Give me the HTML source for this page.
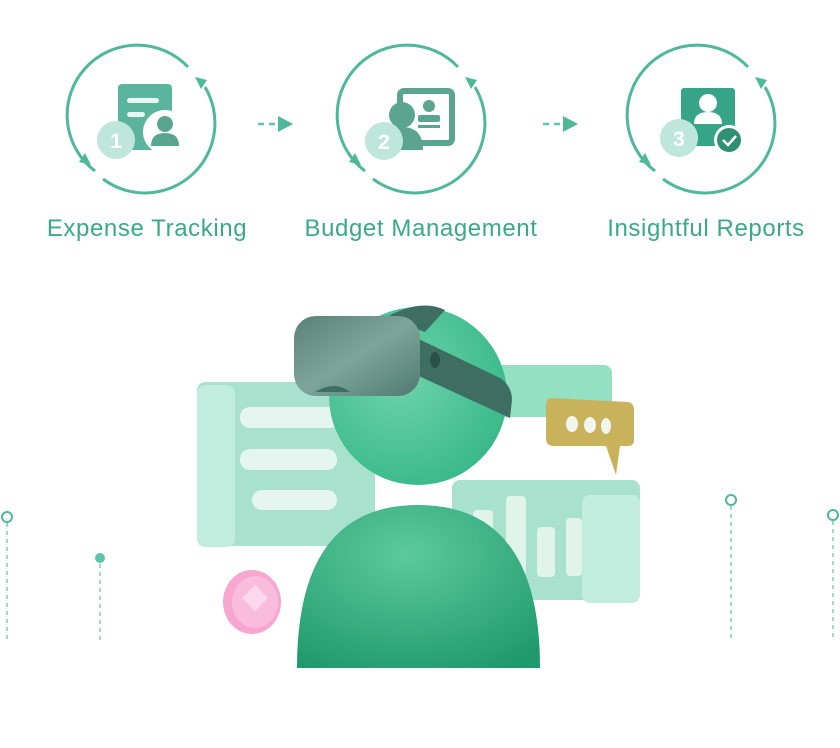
<!DOCTYPE html>
<html><head><meta charset="utf-8"><style>
html,body{margin:0;padding:0;background:#fff;}
svg{display:block;}
text{font-family:"Liberation Sans",sans-serif;}
</style></head><body>
<svg width="840" height="748" viewBox="0 0 840 748" xmlns="http://www.w3.org/2000/svg">
<defs>
<g id="ring">
<path d="M 45 -54 A 70 70 0 1 0 -48 50" fill="none" stroke="#4db89a" stroke-width="3"/>
<path d="M -40 58 A 70 70 0 0 0 62 -34" fill="none" stroke="#4db89a" stroke-width="3"/>
<path d="M 52 -44 L 64 -41 L 58 -32 Z" fill="#4db89a"/>
<path d="M -52 44 L -64 41 L -58 32 Z" fill="#4db89a"/>
</g>
<radialGradient id="head" cx="0.4" cy="0.4" r="0.7"><stop offset="0" stop-color="#6fd3ad"/><stop offset="1" stop-color="#34b787"/></radialGradient>
<radialGradient id="body" cx="0.45" cy="0.3" r="0.8"><stop offset="0" stop-color="#5cc99e"/><stop offset="1" stop-color="#1f9a6c"/></radialGradient>
<linearGradient id="gog" x1="0" y1="0" x2="1" y2="1"><stop offset="0" stop-color="#5a8078"/><stop offset="0.5" stop-color="#7ea49b"/><stop offset="1" stop-color="#4f7a70"/></linearGradient>
</defs>
<g transform="translate(143,121)"><use href="#ring"/></g>
<g transform="translate(413,121)"><use href="#ring"/></g>
<g transform="translate(703,121)"><use href="#ring"/></g>
<!-- icon 1 -->
<rect x="118" y="84" width="54" height="66" rx="4" fill="#5bb59d"/>
<rect x="127" y="98" width="32" height="5" rx="2.5" fill="#e8f5f0"/>
<rect x="127" y="112" width="18" height="5" rx="2.5" fill="#e8f5f0"/>
<circle cx="165" cy="132" r="22" fill="#fff"/>
<circle cx="165" cy="124" r="8" fill="#5ba58e"/>
<path d="M151 146 Q151 133 165 133 Q179 133 179 146 Z" fill="#5ba58e"/>
<circle cx="116" cy="140" r="19" fill="#bfe6da"/>
<text x="116" y="148" font-size="21" font-weight="bold" fill="#fff" text-anchor="middle">1</text>
<!-- icon 2 -->
<rect x="400" y="91" width="52" height="52" rx="4" fill="none" stroke="#5ba58e" stroke-width="6"/>
<circle cx="429" cy="106" r="6" fill="#5ba58e"/>
<rect x="418" y="115" width="22" height="7" rx="2" fill="#5ba58e"/>
<rect x="418" y="125" width="22" height="3" fill="#5ba58e"/>
<circle cx="402" cy="115" r="13" fill="#5ba58e"/>
<path d="M386 150 Q386 127 402 127 Q423 127 423 150 Z" fill="#5ba58e"/>
<circle cx="384" cy="141" r="19" fill="#bfe6da"/>
<text x="384" y="149" font-size="21" font-weight="bold" fill="#fff" text-anchor="middle">2</text>
<!-- icon 3 -->
<rect x="681" y="88" width="54" height="58" rx="3" fill="#36a486"/>
<circle cx="708" cy="103" r="9" fill="#fff"/>
<path d="M694 124 Q694 112 708 112 Q722 112 722 124 Z" fill="#fff"/>
<circle cx="729" cy="140" r="15" fill="#fff"/>
<circle cx="729" cy="140" r="12" fill="#2e8f72"/>
<path d="M723 140 L728 145 L736 136" fill="none" stroke="#fff" stroke-width="2.5"/>
<circle cx="679" cy="138" r="19" fill="#bfe6da"/>
<text x="679" y="146" font-size="21" font-weight="bold" fill="#fff" text-anchor="middle">3</text>
<!-- arrows -->
<line x1="258" y1="124" x2="278" y2="124" stroke="#5cc4a8" stroke-width="2.5" stroke-dasharray="6 5"/>
<path d="M278 116 L293 124 L278 132 Z" fill="#4db89a"/>
<line x1="543" y1="124" x2="563" y2="124" stroke="#5cc4a8" stroke-width="2.5" stroke-dasharray="6 5"/>
<path d="M563 116 L578 124 L563 132 Z" fill="#4db89a"/>
<!-- labels -->
<text x="147" y="236" font-size="24" letter-spacing="0.6" fill="#3aa98a" text-anchor="middle">Expense Tracking</text>
<text x="421" y="236" font-size="24" letter-spacing="0.6" fill="#3aa98a" text-anchor="middle">Budget Management</text>
<text x="706" y="236" font-size="24" letter-spacing="0.6" fill="#3aa98a" text-anchor="middle">Insightful Reports</text>
<!-- dashed verticals -->
<g stroke="#7fcdb4" stroke-width="1.5" stroke-dasharray="4 4" fill="none">
<line x1="7" y1="523" x2="7" y2="640"/><line x1="100" y1="564" x2="100" y2="640"/>
<line x1="731" y1="506" x2="731" y2="640"/><line x1="833" y1="521" x2="833" y2="640"/>
</g>
<circle cx="7" cy="517" r="5" fill="#fff" stroke="#4db89a" stroke-width="2"/>
<circle cx="100" cy="558" r="5" fill="#5cc4a8"/>
<circle cx="731" cy="500" r="5" fill="#fff" stroke="#4db89a" stroke-width="2"/>
<circle cx="833" cy="515" r="5" fill="#fff" stroke="#4db89a" stroke-width="2"/>
<!-- panels -->
<rect x="197" y="382" width="178" height="164" rx="8" fill="#a8e2cf"/>
<rect x="197" y="385" width="38" height="162" rx="8" fill="#c2ecdd"/>
<rect x="240" y="407" width="100" height="21" rx="10" fill="#e4f6ef"/>
<rect x="240" y="449" width="97" height="21" rx="10" fill="#e4f6ef"/>
<rect x="252" y="490" width="85" height="20" rx="10" fill="#e4f6ef"/>
<rect x="470" y="365" width="142" height="52" rx="8" fill="#93e0c3"/>
<rect x="452" y="480" width="188" height="120" rx="8" fill="#a8e2cf"/>
<rect x="582" y="495" width="58" height="108" rx="8" fill="#c2ecdd"/>
<rect x="473" y="510" width="20" height="65" rx="4" fill="#e0f4ec"/>
<rect x="506" y="496" width="20" height="80" rx="4" fill="#e0f4ec"/>
<rect x="537" y="527" width="18" height="50" rx="4" fill="#e0f4ec"/>
<rect x="566" y="518" width="16" height="58" rx="4" fill="#e0f4ec"/>
<!-- chat -->
<path d="M552 398 L628 402 Q634 403 634 410 L634 440 Q634 446 628 446 L620 446 L616 475 L606 446 L554 446 Q546 446 546 438 L546 406 Q546 398 552 398 Z" fill="#c8b25c"/>
<ellipse cx="572" cy="424" rx="6" ry="8" fill="#f2f4ee"/>
<ellipse cx="590" cy="425" rx="6" ry="8" fill="#f2f4ee"/>
<ellipse cx="606" cy="426" rx="5" ry="8" fill="#f2f4ee"/>
<!-- coin -->
<ellipse cx="252" cy="602" rx="29" ry="32" fill="#f7a6cf"/>
<ellipse cx="255" cy="602" rx="23" ry="26" fill="#f9bcdc"/>
<path d="M255 585 L268 598 L255 611 L242 598 Z M255 593 L262 600 L255 607 L248 600Z" fill="#fbd8ea"/>
<!-- body -->
<path d="M297 668 Q297 505 418 505 Q540 505 540 668 Z" fill="url(#body)"/>
<!-- head -->
<circle cx="418" cy="396" r="89" fill="url(#head)"/>
<!-- goggles band -->
<path d="M400 330 L500 378 Q512 386 512 400 L510 418 L410 372 Z" fill="#3e6e62"/>
<path d="M385 318 Q420 298 445 310 L425 332 Z" fill="#3e6e62"/>
<rect x="294" y="316" width="126" height="80" rx="22" fill="url(#gog)"/>
<path d="M315 392 Q335 380 350 392 Z" fill="#3e6e62"/>
<ellipse cx="435" cy="360" rx="5" ry="8" fill="#2c5047"/>
</svg>
</body></html>
